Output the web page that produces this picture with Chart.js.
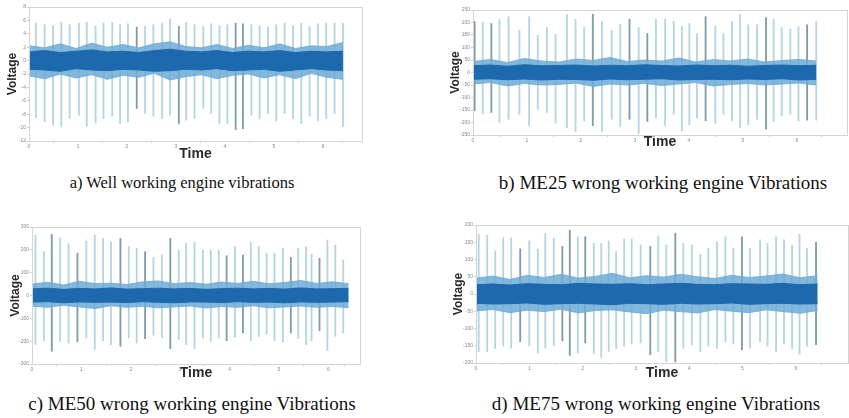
<!DOCTYPE html>
<html><head><meta charset="utf-8">
<script src="https://cdn.jsdelivr.net/npm/chart.js@4.4.1/dist/chart.umd.min.js"></script>
<style>
html,body{margin:0;padding:0;background:#fff;width:849px;height:418px;overflow:hidden;position:relative;}
canvas{position:absolute;}
.cap{position:absolute;font-family:"Liberation Serif","Times New Roman",serif;font-size:19px;color:#111;white-space:nowrap;text-align:center;width:420px;line-height:22px;}
</style></head><body>
<canvas id="cA" width="370" height="165" style="left:0;top:0"></canvas>
<canvas id="cB" width="419" height="165" style="left:430px;top:0"></canvas>
<canvas id="cC" width="370" height="175" style="left:0;top:210px"></canvas>
<canvas id="cD" width="419" height="175" style="left:430px;top:210px"></canvas>
<div class="cap" style="left:-28px;top:172px;font-size:16.5px">a) Well working engine vibrations</div>
<div class="cap" style="left:453px;top:172px">b) ME25 wrong working engine Vibrations</div>
<div class="cap" style="left:-18px;top:393px">c) ME50 wrong working engine Vibrations</div>
<div class="cap" style="left:446px;top:393px">d) ME75 wrong working engine Vibrations</div>
<script>
// ---------- Panel a: well working engine ----------
const aSpikeT  = [0.14,0.32,0.49,0.66,0.83,1.02,1.18,1.36,1.52,1.70,1.86,2.02,2.20,2.37,2.54,2.72,2.88,3.06,3.21,3.38,3.56,3.72,3.89,4.05,4.22,4.37,4.54,4.71,4.88,5.05,5.22,5.39,5.56,5.73,5.90,6.07,6.24,6.41];
const aSpikeHi = [5.6,5.35,5.2,5.7,5.35,5.6,5.7,5.2,5.6,5.7,5.35,5.5,5.0,5.1,5.35,5.6,6.2,5.1,5.7,5.35,5.1,5.5,5.2,5.35,5.6,5.5,5.35,5.2,5.0,5.35,5.6,5.2,5.6,5.1,5.5,5.6,5.6,5.6];
const aSpikeLo = [-8.5,-9.15,-9.65,-9.9,-8.65,-8.15,-9.8,-9.3,-8.65,-8.3,-9.4,-9.15,-7.15,-7.9,-8.3,-8.65,-8.15,-9.4,-8.9,-8.65,-7.15,-7.9,-9.4,-9.4,-10.3,-10.15,-8.15,-8.65,-7.9,-9.0,-7.9,-8.65,-9.4,-8.3,-9.0,-8.65,-7.9,-9.9];
const aDark    = [12,17,24,25];
const aBandT   = [0,0.32,0.64,0.96,1.28,1.60,1.92,2.24,2.56,2.88,3.20,3.52,3.84,4.16,4.48,4.80,5.12,5.44,5.76,6.08,6.41];
const aOuterHi = [2.2,1.9,2.5,1.8,2.6,2.0,2.4,1.9,2.5,2.8,2.1,1.9,2.4,1.8,2.3,1.9,2.5,1.8,2.2,2.1,2.7];
const aOuterLo = [-2.3,-2.7,-2.0,-2.6,-2.1,-2.8,-2.2,-2.5,-1.9,-2.9,-2.4,-2.1,-2.7,-2.2,-2.0,-2.6,-2.1,-2.7,-1.9,-2.5,-2.8];
const aInnerHi = [1.3,1.5,1.2,1.4,1.6,1.3,1.4,1.2,1.5,1.7,1.4,1.3,1.5,1.2,1.4,1.3,1.5,1.2,1.4,1.3,1.4];
const aInnerLo = [-1.3,-1.4,-1.6,-1.2,-1.4,-1.5,-1.3,-1.4,-1.6,-1.5,-1.3,-1.4,-1.2,-1.5,-1.4,-1.3,-1.6,-1.4,-1.2,-1.4,-1.5];

// ---------- Panel b: ME25 ----------
const bSpikeT  = [0.03,0.18,0.34,0.49,0.66,0.86,1.04,1.20,1.37,1.53,1.74,1.90,2.06,2.22,2.39,2.57,2.73,2.90,3.07,3.23,3.39,3.56,3.72,3.87,4.01,4.15,4.31,4.49,4.64,4.80,4.95,5.10,5.26,5.43,5.57,5.72,5.88,6.03,6.19,6.36];
const bSpikeHi = [204,200,196,213,223,169,223,149,180,153,231,213,180,233,204,169,193,213,180,156,213,213,204,183,196,156,223,187,156,204,231,191,191,220,213,180,173,183,191,204];
const bSpikeLo = [-153,-167,-160,-200,-187,-167,-213,-147,-160,-203,-220,-237,-193,-213,-237,-187,-217,-187,-244,-196,-183,-213,-167,-233,-209,-183,-193,-203,-167,-193,-220,-209,-187,-227,-196,-173,-167,-193,-191,-191];
const bDark    = [0,2,13,17,19,26,33,38];
const bBandT   = [0,0.32,0.64,0.95,1.27,1.59,1.91,2.23,2.54,2.86,3.18,3.50,3.82,4.13,4.45,4.77,5.09,5.41,5.72,6.04,6.36];
const bOuterHi = [44,52,40,56,46,42,54,48,60,44,50,46,58,42,52,46,54,42,48,52,46];
const bOuterLo = [-46,-40,-54,-44,-50,-48,-42,-56,-46,-50,-44,-52,-46,-40,-54,-48,-44,-50,-46,-42,-50];
const bInnerHi = [27,30,25,31,27,28,30,26,29,27,31,28,26,30,27,29,25,28,30,27,29];
const bInnerLo = [-27,-25,-29,-26,-30,-27,-28,-31,-26,-29,-27,-25,-30,-28,-27,-29,-26,-28,-25,-30,-27];

// ---------- Panel c: ME50 ----------
const cSpikeT  = [0.07,0.24,0.40,0.57,0.74,0.92,1.10,1.27,1.44,1.60,1.79,1.96,2.12,2.29,2.46,2.63,2.80,2.97,3.12,3.29,3.46,3.62,3.78,3.94,4.11,4.27,4.43,4.59,4.75,4.91,5.08,5.24,5.39,5.55,5.66,5.82,5.98,6.14,6.30];
const cSpikeHi = [265,192,267,253,228,185,238,265,250,235,250,214,206,192,166,177,250,199,228,233,199,199,199,174,214,177,233,214,185,185,206,167,206,214,180,163,243,221,156];
const cSpikeLo = [-215,-198,-244,-200,-208,-203,-186,-237,-198,-215,-222,-186,-208,-189,-174,-186,-233,-193,-215,-233,-186,-200,-186,-198,-183,-164,-198,-179,-169,-198,-203,-164,-189,-215,-198,-154,-241,-179,-164];
const cDark    = [2,5,10,13,16,23,25,31,35];
const cBandT   = [0,0.32,0.64,0.96,1.28,1.60,1.92,2.24,2.56,2.88,3.20,3.52,3.84,4.16,4.48,4.80,5.12,5.44,5.76,6.08,6.41];
const cOuterHi = [50,58,46,62,52,54,48,60,64,52,57,49,59,53,62,51,57,66,53,60,52];
const cOuterLo = [-47,-52,-43,-50,-57,-45,-52,-47,-54,-50,-46,-55,-48,-52,-45,-54,-50,-46,-52,-48,-54];
const cInnerHi = [29,32,27,31,29,33,28,30,32,29,31,27,30,32,29,31,28,33,29,30,31];
const cInnerLo = [-29,-27,-32,-28,-30,-29,-31,-27,-30,-32,-28,-29,-31,-27,-30,-29,-32,-28,-30,-29,-27];

// ---------- Panel d: ME75 ----------
const dSpikeT  = [0.05,0.21,0.36,0.51,0.66,0.83,1.00,1.16,1.30,1.46,1.62,1.76,1.91,2.05,2.21,2.35,2.49,2.63,2.78,2.92,3.09,3.27,3.42,3.57,3.74,3.89,4.05,4.21,4.36,4.52,4.68,4.83,4.99,5.14,5.33,5.47,5.63,5.78,5.93,6.07,6.21,6.38];
const dSpikeHi = [173,171,125,163,163,131,154,130,176,163,138,185,166,166,147,147,154,123,159,159,142,138,168,142,176,147,142,115,132,151,166,132,166,132,157,147,166,157,142,173,132,150];
const dSpikeLo = [-167,-167,-158,-151,-157,-138,-151,-171,-157,-151,-136,-178,-171,-142,-174,-184,-167,-158,-151,-145,-142,-176,-167,-197,-197,-158,-147,-167,-151,-158,-139,-145,-162,-157,-139,-151,-167,-145,-158,-174,-151,-147];
const dDark    = [5,10,11,13,21,24,32,41];
const dBandT   = [0,0.32,0.64,0.96,1.28,1.60,1.92,2.24,2.56,2.88,3.20,3.52,3.84,4.16,4.48,4.80,5.12,5.44,5.76,6.08,6.41];
const dOuterHi = [46,52,42,54,48,57,46,51,60,47,53,49,57,50,45,54,48,52,58,47,53];
const dOuterLo = [-49,-45,-54,-47,-51,-44,-55,-48,-46,-52,-57,-47,-51,-55,-45,-50,-54,-46,-51,-56,-48];
const dInnerHi = [27,29,26,30,28,27,31,29,28,30,27,29,31,28,27,30,29,28,31,27,29];
const dInnerLo = [-27,-29,-28,-26,-30,-28,-27,-29,-31,-27,-28,-30,-27,-29,-28,-26,-30,-28,-27,-29,-28];

const LIGHT_SPIKE = '#b3d6e1', DARK_SPIKE = '#7d9ea9';
const OUTER = 'rgba(110,170,214,0.85)', INNER = '#1c69ae';

const boxPlugin = {
  id: 'box',
  afterDraw(chart) {
    const {ctx, chartArea: a} = chart;
    ctx.save();
    ctx.strokeStyle = '#d4d4d4';
    ctx.lineWidth = 1;
    ctx.strokeRect(Math.round(a.left) + 0.5, Math.round(a.top) + 0.5, Math.round(a.right - a.left), Math.round(a.bottom - a.top));
    ctx.restore();
  }
};

function makePanel(id, p) {
  const pts = (xs, ys) => xs.map((x, i) => ({x, y: ys[i]}));
  const spikes = p.t.map((t, i) => ({x: t, y: [p.lo[i], p.hi[i]]}));
  const spikeColors = p.t.map((t, i) => p.dark.includes(i) ? DARK_SPIKE : LIGHT_SPIKE);
  const line = (data, color, fill, order) => ({
    type: 'line', data, borderColor: color, backgroundColor: color, borderWidth: 1,
    pointRadius: 0, tension: 0, fill, order
  });
  new Chart(document.getElementById(id), {
    type: 'bar',
    data: {
      datasets: [
        {type: 'bar', data: spikes, backgroundColor: spikeColors, barThickness: 1.2, borderWidth: 0, order: 3},
        line(pts(p.bandT, p.outerHi), OUTER, '+1', 2),
        line(pts(p.bandT, p.outerLo), OUTER, false, 2),
        line(pts(p.bandT, p.innerHi), INNER, '+1', 1),
        line(pts(p.bandT, p.innerLo), INNER, false, 1)
      ]
    },
    options: {
      responsive: false, animation: false,
      layout: {padding: p.pad},
      plugins: {legend: {display: false}, tooltip: {enabled: false}},
      scales: {
        x: {
          type: 'linear', min: 0, max: p.xMax, offset: false,
          ticks: {stepSize: 1, autoSkip: false, maxRotation: 0, padding: 1,
                  font: {size: 5}, color: '#888',
                  callback: v => Number.isInteger(v) ? v : ''},
          grid: {drawOnChartArea: false, tickLength: 2, color: '#cccccc'},
          border: {color: '#d4d4d4'},
          title: {display: true, text: 'Time', color: '#2a2a2a',
                  font: {family: 'Liberation Sans, Arial, sans-serif', weight: 'bold', size: 14},
                  padding: {top: 0, bottom: p.timePad}},
          afterFit: s => { s.height = p.xH; }
        },
        y: {
          min: p.yMin, max: p.yMax,
          ticks: {stepSize: p.yStep, autoSkip: false, padding: 1, font: {size: 5}, color: '#888'},
          grid: {drawOnChartArea: false, tickLength: 2, color: '#cccccc'},
          border: {color: '#d4d4d4'},
          title: {display: true, text: 'Voltage', color: '#2a2a2a',
                  font: {family: 'Liberation Sans, Arial, sans-serif', weight: 'bold', size: 12},
                  padding: {top: p.voltPad, bottom: 0}},
          afterFit: s => { s.width = p.yW; }
        }
      }
    },
    plugins: [boxPlugin]
  });
}

makePanel('cA', {t: aSpikeT, hi: aSpikeHi, lo: aSpikeLo, dark: aDark, bandT: aBandT,
  outerHi: aOuterHi, outerLo: aOuterLo, innerHi: aInnerHi, innerLo: aInnerLo,
  xMax: 6.8, yMin: -12, yMax: 8, yStep: 2,
  pad: {top: 7, right: 8, left: 0, bottom: 0}, xH: 24, yW: 29, timePad: 2, voltPad: 5});
makePanel('cB', {t: bSpikeT, hi: bSpikeHi, lo: bSpikeLo, dark: bDark, bandT: bBandT,
  outerHi: bOuterHi, outerLo: bOuterLo, innerHi: bInnerHi, innerLo: bInnerLo,
  xMax: 6.93, yMin: -250, yMax: 250, yStep: 50,
  pad: {top: 10, right: 2, left: 0, bottom: 0}, xH: 30, yW: 43, timePad: 14, voltPad: 18});
makePanel('cC', {t: cSpikeT, hi: cSpikeHi, lo: cSpikeLo, dark: cDark, bandT: cBandT,
  outerHi: cOuterHi, outerLo: cOuterLo, innerHi: cInnerHi, innerLo: cInnerLo,
  xMax: 6.64, yMin: -300, yMax: 300, yStep: 100,
  pad: {top: 17, right: 10, left: 0, bottom: 0}, xH: 21, yW: 32, timePad: 3, voltPad: 8});
makePanel('cD', {t: dSpikeT, hi: dSpikeHi, lo: dSpikeLo, dark: dDark, bandT: dBandT,
  outerHi: dOuterHi, outerLo: dOuterLo, innerHi: dInnerHi, innerLo: dInnerLo,
  xMax: 6.98, yMin: -200, yMax: 200, yStep: 50,
  pad: {top: 15, right: 1, left: 0, bottom: 0}, xH: 22, yW: 46, timePad: 3, voltPad: 21});
</script>
</body></html>
